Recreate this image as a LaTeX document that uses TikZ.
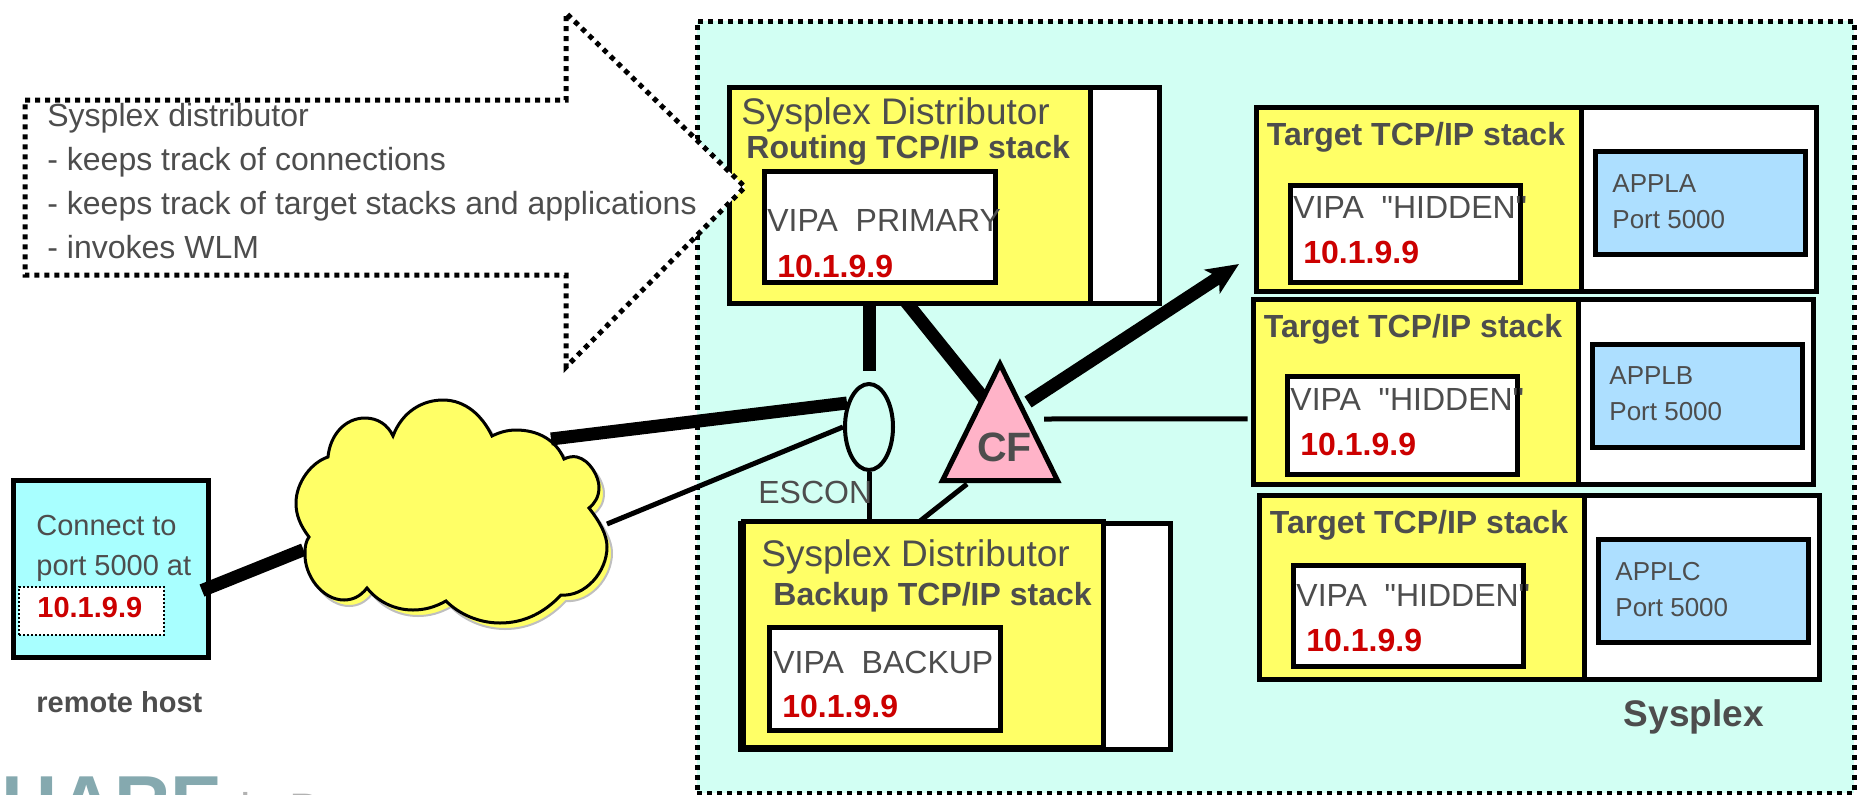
\documentclass[tikz,border=0pt]{standalone}
\usepackage{fontspec}
\setmainfont{Liberation Sans}
\newfontfamily\straightfont{Liberation Sans}
\usetikzlibrary{arrows.meta, shapes.geometric}
\pgfdeclarelayer{plexback}
\pgfdeclarelayer{wires}
\pgfsetlayers{plexback,wires,main}
\definecolor{inktext}{HTML}{4D4D4D}
\definecolor{addrred}{HTML}{CC0000}
\definecolor{plexteal}{HTML}{D2FFF3}
\definecolor{stackyellow}{HTML}{FFFF66}
\definecolor{applblue}{HTML}{ADDFFF}
\definecolor{hostcyan}{HTML}{A8FFFF}
\definecolor{cfpink}{HTML}{FFB3C8}
\definecolor{logoteal}{HTML}{85A9AF}
\newcommand{\cloudoutline}{(393,436) .. controls (402,412) and (422,400) .. (443,400) .. controls (465,400) and (482,415) .. (492,436)
    .. controls (500,432) and (508,430) .. (516,430) .. controls (538,430) and (556,440) .. (564,459)
    .. controls (568,457) and (573,456) .. (577,457) .. controls (590,460) and (599,477) .. (599,487) .. controls (599,497) and (595,503) .. (589,508)
    .. controls (600,522) and (607,535) .. (607,547) .. controls (607,572) and (585,597) .. (561,595)
    .. controls (545,612) and (525,623) .. (500,623) .. controls (480,623) and (460,615) .. (446,601)
    .. controls (435,607) and (425,610) .. (413,610) .. controls (395,610) and (378,602) .. (367,588)
    .. controls (360,597) and (352,600) .. (344,600) .. controls (322,600) and (304,575) .. (305,553) .. controls (305,546) and (306,541) .. (309,537)
    .. controls (300,525) and (296,515) .. (296,503) .. controls (296,482) and (312,462) .. (328,457)
    .. controls (330,435) and (345,418) .. (365,418) .. controls (378,418) and (388,425) .. (393,436) -- cycle}

\begin{document}
\begin{tikzpicture}[x=0.5pt, y=-0.5pt]
    \tikzstyle{plain box} = [rectangle, draw=black, line width=2.5pt, inner sep=0pt]
    \tikzstyle{stackbox} = [plain box, fill=stackyellow]
    \tikzstyle{sparebox} = [plain box, fill=white]
    \tikzstyle{applbox} = [plain box, fill=applblue]
    \tikzstyle{dotline} = [draw=black, line width=2.5pt, dash pattern=on 2.5pt off 2.5pt]
    \tikzstyle{thintext} = [anchor=base west, inner sep=0pt, text=inktext, font=\fontsize{16}{19}\selectfont]
    \tikzstyle{boldtext} = [thintext, font=\fontsize{16}{19}\selectfont\bfseries]
    \tikzstyle{redtext} = [boldtext, text=addrred]
    \tikzstyle{smalltext} = [thintext, font=\fontsize{13}{16}\selectfont]
    \tikzstyle{fatline} = [line width=6.5pt, draw=black]
    \tikzstyle{thinline} = [line width=2.5pt, draw=black]

    \useasboundingbox (0,0) rectangle (1860,794);
    \clip (0,0) rectangle (1860,794);

    \begin{pgfonlayer}{plexback}
        \node[dotline, fill=plexteal, minimum width=578.5pt, minimum height=386pt] (sysplex) at (1275.5,407) {};
    \end{pgfonlayer}
    \node[boldtext, font=\fontsize{18.5}{22}\selectfont\bfseries] (sysplexlabel) at (1623.5,726) {Sysplex};

    \node[sparebox, minimum width=34.5pt, minimum height=108pt] (routingspare) at (1124.5,195.6) {};
    \node[stackbox, minimum width=180.5pt, minimum height=108pt] (routing) at (909.5,195.6) {};
    \node[sparebox, minimum width=115.5pt, minimum height=55.5pt] (routingvipa) at (879.5,226.5) {};
    \node[thintext, font=\fontsize{18.5}{22}\selectfont] (routingname) at (741,124) {Sysplex Distributor};
    \node[boldtext] (routingrole) at (746,158) {Routing TCP/IP stack};
    \node[thintext] (routingmode) at (767,231) {VIPA\ \ PRIMARY};
    \node[redtext] (routingaddr) at (777,277) {10.1.9.9};

    \node[sparebox, minimum width=215pt, minimum height=113pt] (backupspare) at (955,636) {};
    \node[stackbox, minimum width=180.25pt, minimum height=113.25pt] (backup) at (923.25,634.25) {};
    \node[sparebox, minimum width=115.5pt, minimum height=51.5pt] (backupvipa) at (885,679) {};
    \node[thintext, font=\fontsize{18.5}{22}\selectfont] (backupname) at (761,566) {Sysplex Distributor};
    \node[boldtext] (backuprole) at (773,605) {Backup TCP/IP stack};
    \node[thintext] (backupmode) at (773,673) {VIPA\ \ BACKUP};
    \node[redtext] (backupaddr) at (782,717) {10.1.9.9};

    \foreach \n/\dx/\dy/\vy/\vh/\app in {A/0/0/234/48.5/APPLA, B/-3/192.5/425.5/49/APPLB, C/3/388/616/50.5/APPLC} {
        \node[sparebox, minimum width=117.75pt, minimum height=92.25pt] (spare\n) at (1698.75+\dx,199.25+\dy) {};
        \node[stackbox, minimum width=162.5pt, minimum height=92.25pt] (stack\n) at (1418.5+\dx,199.25+\dy) {};
        \node[sparebox, minimum width=115pt, minimum height=\vh pt] (vipa\n) at (1405.5+\dx,\vy) {};
        \node[applbox, minimum width=105pt, minimum height=51.5pt] (appl\n) at (1700.5+\dx,203+\dy) {};
        \node[boldtext] (role\n) at (1266.5+\dx,145+\dy) {Target TCP/IP stack};
        \node[thintext, font=\fontsize{16}{19}\straightfont] (mode\n) at (1293+\dx,218+\dy) {VIPA\ \ "HIDDEN"};
        \node[redtext] (addr\n) at (1303+\dx,263+\dy) {10.1.9.9};
        \node[smalltext] (name\n) at (1612+\dx,192+\dy) {\app};
        \node[smalltext] (port\n) at (1612+\dx,228+\dy) {Port 5000};
    }

    \node[plain box, fill=hostcyan, minimum width=97.5pt, minimum height=88.5pt] (host) at (111,568.5) {};
    \node[draw=black, fill=white, line width=0.8pt, dash pattern=on 1pt off 1pt, inner sep=0pt, minimum width=72.5pt, minimum height=24pt] (hostaddrbox) at (91.5,611) {};
    \node[thintext, font=\fontsize{14.5}{17}\selectfont] (hostline1) at (36,535) {Connect to};
    \node[thintext, font=\fontsize{14.5}{17}\selectfont] (hostline2) at (36,575) {port 5000 at};
    \node[redtext, font=\fontsize{14.5}{17}\selectfont\bfseries] (hostaddr) at (37,617) {10.1.9.9};
    \node[boldtext, font=\fontsize{14.5}{17}\selectfont\bfseries] (hostlabel) at (36,712) {remote host};

    \draw[draw=black!25, line width=1pt, fill=stackyellow, shift={(5,6)}] \cloudoutline;
    \draw[draw=black, line width=1.5pt, fill=stackyellow] \cloudoutline;
    \coordinate (cloudwest) at (303.5,549.7);
    \coordinate (cloudnorth) at (551,439);
    \coordinate (cloudeast) at (607,524);

    \node[draw=black, line width=2pt, ellipse, inner sep=0pt, minimum width=24pt, minimum height=43pt] (escon) at (869,427) {};
    \node[thintext] (esconlabel) at (758,503) {ESCON};

    \draw[draw=black, line width=2.5pt, fill=cfpink] (1000,364) -- (942.5,480.5) -- (1057.5,480.5) -- cycle;
    \node[boldtext, anchor=center, font=\fontsize{20.5}{24}\selectfont\bfseries] (cf) at (1004.5,447.5) {CF};

    \draw[fatline] ([shift={(91,22)}]host.center) -- (cloudwest);
    \draw[fatline] (cloudnorth) -- ([shift={(-22,-24)}]escon.center);
    \draw[thinline] (cloudeast) -- ([shift={(-26,0)}]escon.center);
    \begin{pgfonlayer}{wires}
        \draw[fatline, shorten >=5.75pt] (routing.center -| escon.north) -- (escon.north);
        \draw[thinline] (escon.south) -- (escon.south |- backup.center);
        \draw[fatline, shorten <=-6pt] (routing.south) -- ([shift={(-15,-42)}]cf.center);
        \draw[thinline, shorten >=-3pt] ([shift={(-37.5,36.5)}]cf.center) -- (backup.north);
    \end{pgfonlayer}
    \draw[fatline, -{Stealth[length=16pt, width=14pt, inset=4pt]}] ([shift={(23.5,-45.5)}]cf.center) -- ([shift={(-14.5,-30)}]stackA.south west);
    \draw[thinline] ([shift={(39.5,-28.5)}]cf.center) -- ([shift={(-3,27)}]stackB.west);

    \draw[dotline, fill=white] (25,100) -- (566,100) -- (566,13) -- (745,187) -- (566,367) -- (566,275) -- (25,275) -- cycle;
    \node[thintext, anchor=north west, align=left, font=\fontsize{16}{22}\selectfont] (callout) at (47,103) {Sysplex distributor\\- keeps track of connections\\- keeps track of target stacks and applications\\- invokes WLM};

    \node[anchor=base west, inner sep=0pt, text=logoteal, font=\fontsize{39}{42}\selectfont\bfseries] (logo) at (1.5,830) {HARE};
    \node[anchor=base west, inner sep=0pt, text=black!30, font=\fontsize{23.5}{26}\selectfont] (logoplace) at (240,826) {in Boston};
\end{tikzpicture}
\end{document}
